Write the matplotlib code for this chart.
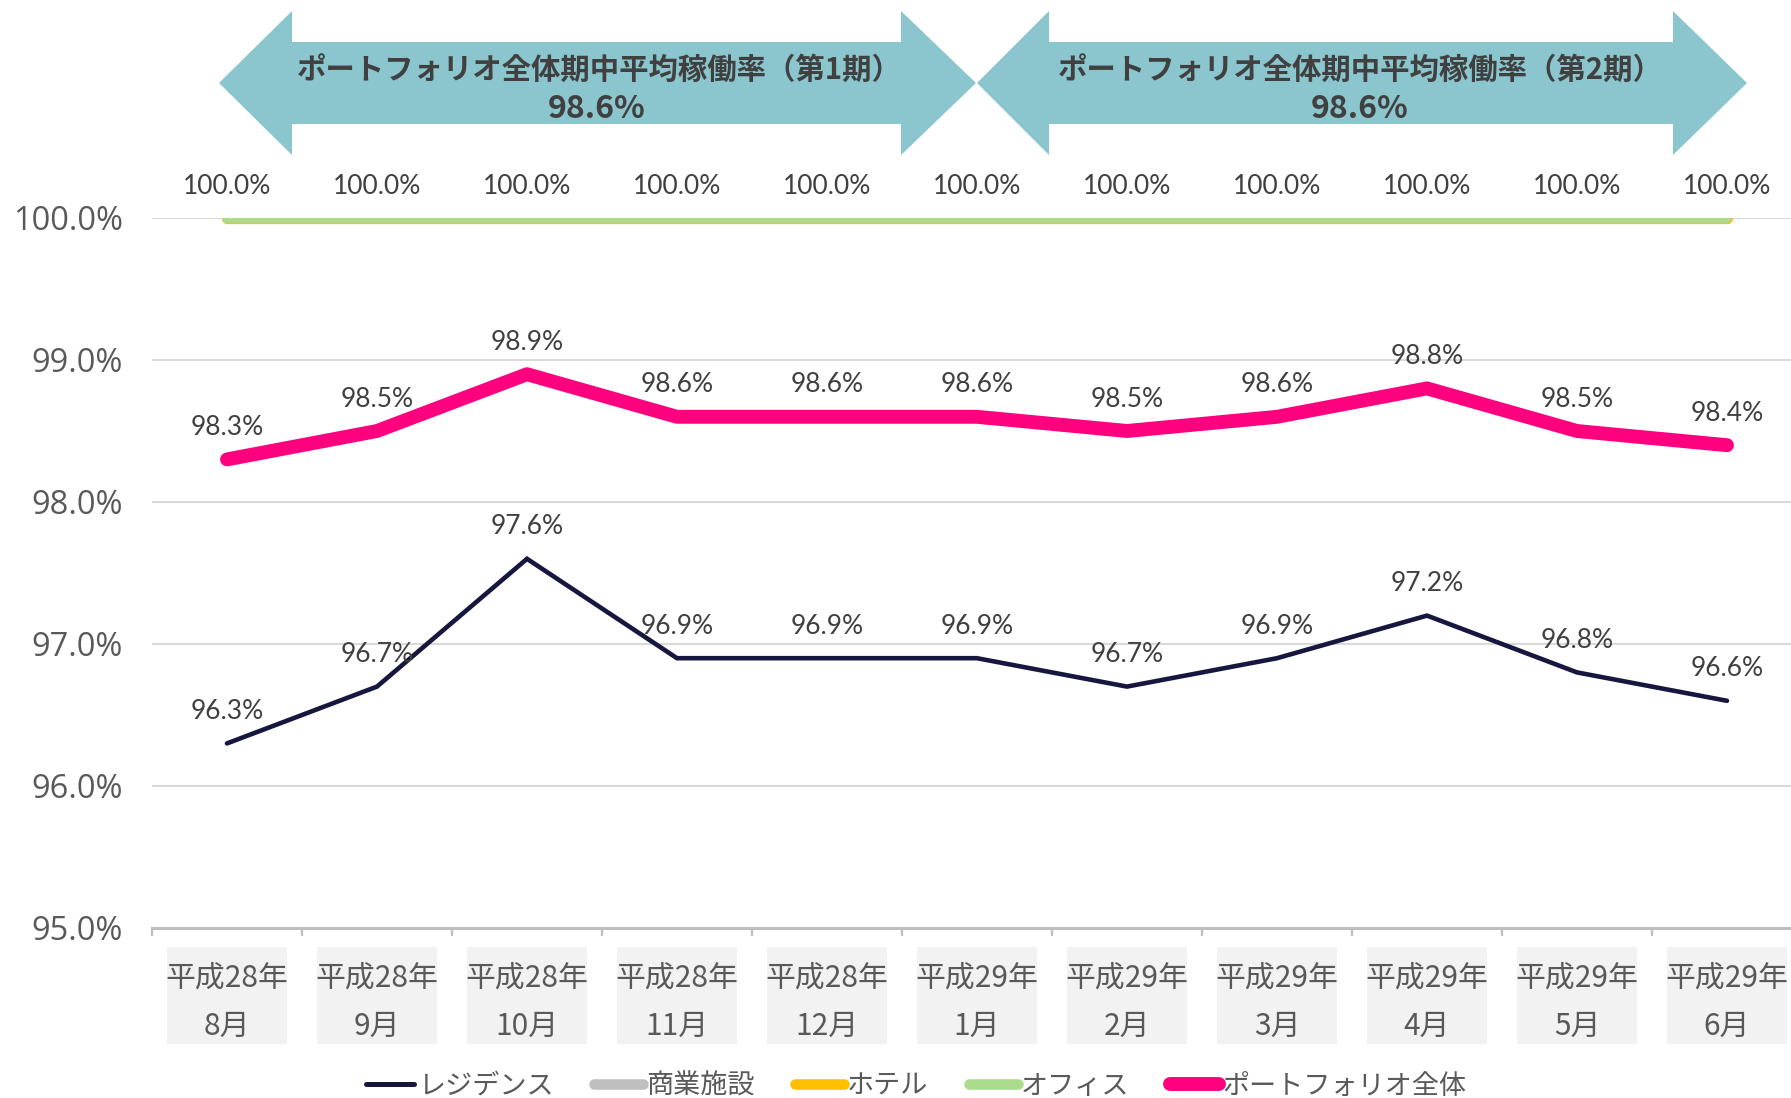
import matplotlib
matplotlib.use("Agg")
import matplotlib.pyplot as plt
from matplotlib.patches import Polygon, Rectangle
from matplotlib.lines import Line2D
import matplotlib.transforms as mtransforms

plt.rcParams['font.family'] = ['Noto Sans CJK JP', 'DejaVu Sans']

# ---------------- data ----------------
years = ["平成28年"] * 5 + ["平成29年"] * 6
months = ["8月", "9月", "10月", "11月", "12月", "1月", "2月", "3月", "4月", "5月", "6月"]
residence = [96.3, 96.7, 97.6, 96.9, 96.9, 96.9, 96.7, 96.9, 97.2, 96.8, 96.6]
commercial = [100.0] * 11
hotel = [100.0] * 11
office = [100.0] * 11
portfolio = [98.3, 98.5, 98.9, 98.6, 98.6, 98.6, 98.5, 98.6, 98.8, 98.5, 98.4]
series_names = ["レジデンス", "商業施設", "ホテル", "オフィス", "ポートフォリオ全体"]
period_titles = ["ポートフォリオ全体期中平均稼働率（第1期）", "ポートフォリオ全体期中平均稼働率（第2期）"]
period_values = ["98.6%", "98.6%"]
yticks = [95.0, 96.0, 97.0, 98.0, 99.0, 100.0]

# ---------------- style ----------------
C_RES = "#16163F"
C_COM = "#BFBFBF"
C_HOT = "#FFC000"
C_OFF = "#ABDC8E"
C_POR = "#FF007F"
C_ARROW = "#8BC5CD"
C_LABEL = "#404040"
C_TICK = "#595959"
NUMFONT = "Lato"

W, H = 1791, 1098
fig = plt.figure(figsize=(W / 100, H / 100), dpi=100)
ax = fig.add_axes([152 / W, 1 - 928 / H, 1650 / W, 710 / H])

x = list(range(len(months)))

ax.plot(x, commercial, color=C_COM, lw=8.0, solid_capstyle='round', zorder=3)
ax.plot(x, hotel, color=C_HOT, lw=8.0, solid_capstyle='round', zorder=4)
ax.plot(x, office, color=C_OFF, lw=7.0, solid_capstyle='round', zorder=5)
ax.plot(x, portfolio, color=C_POR, lw=10, solid_capstyle='round',
        solid_joinstyle='round', zorder=6)
ax.plot(x, residence, color=C_RES, lw=3.3, solid_capstyle='round',
        solid_joinstyle='miter', zorder=6)

def labels(vals):
    for i, v in zip(x, vals):
        ax.annotate(f"{v:.1f}%", (i, v), xytext=(0, 23.0), textcoords='offset points',
                    ha='center', va='center', fontsize=19, family=NUMFONT,
                    color=C_LABEL, annotation_clip=False, zorder=7)

labels(office)
labels(portfolio)
labels(residence)

ax.set_xlim(-0.5, len(months) - 0.5)
ax.set_ylim(95, 100)
ax.set_yticks(yticks)
ax.set_yticklabels([f"{v:.1f}%" for v in yticks], family="Open Sans",
                   fontsize=23.5, color=C_TICK)
ax.tick_params(axis='y', length=0, pad=21)
ax.set_xticks([i - 0.5 for i in range(len(months) + 1)])
ax.set_xticklabels([])
ax.tick_params(axis='x', length=6, width=1.6, color=C_COM, direction='out')
for s in ['left', 'right', 'top']:
    ax.spines[s].set_visible(False)
ax.spines['bottom'].set_color(C_COM)
ax.spines['bottom'].set_linewidth(2.2)
ax.yaxis.grid(True, color='#D9D9D9', lw=1.5)
ax.set_axisbelow(True)

# category label boxes & text
trans = mtransforms.blended_transform_factory(ax.transData, ax.transAxes)
for i, (yy, mm) in enumerate(zip(years, months)):
    ax.add_patch(Rectangle((i - 0.4, -0.1634), 0.8, 0.1634 - 0.0263, transform=trans,
                           facecolor='#F2F2F2', edgecolor='none', clip_on=False))
    ax.text(i, -0.0705, yy, transform=trans, ha='center', va='center',
            fontsize=21.5, color=C_TICK)
    ax.text(i, -0.1380, mm, transform=trans, ha='center', va='center',
            fontsize=21.5, color=C_TICK)

# period arrows
def arrow_poly(x0, x1, yc, hl0, hl1, hh, sh):
    pts = [(x0, yc), (x0 + hl0, yc - hh), (x0 + hl0, yc - sh), (x1 - hl1, yc - sh),
           (x1 - hl1, yc - hh), (x1, yc), (x1 - hl1, yc + hh), (x1 - hl1, yc + sh),
           (x0 + hl0, yc + sh), (x0 + hl0, yc + hh)]
    return [(px / W, 1 - py / H) for px, py in pts]

arrows = [(219, 976, 73, 75), (977, 1747, 72, 74)]
title_cx = [599, 1360]
value_cx = [597, 1360]
for (x0, x1, hl0, hl1), title, val, tcx, vcx in zip(arrows, period_titles, period_values,
                                                     title_cx, value_cx):
    fig.patches.append(Polygon(arrow_poly(x0, x1, 83, hl0, hl1, 72, 41), closed=True,
                               transform=fig.transFigure, facecolor=C_ARROW,
                               edgecolor='none'))
    fig.text(tcx / W, 1 - 70 / H, title, ha='center', va='center', fontsize=21.2,
             fontweight='bold', color=C_LABEL)
    fig.text(vcx / W, 1 - 109 / H, val, ha='center', va='center', fontsize=23,
             fontweight='bold', color=C_LABEL)

# legend
handles = [
    Line2D([], [], color=C_RES, lw=3.6, solid_capstyle='round'),
    Line2D([], [], color=C_COM, lw=7.6, solid_capstyle='round'),
    Line2D([], [], color=C_HOT, lw=7.6, solid_capstyle='round'),
    Line2D([], [], color=C_OFF, lw=7.6, solid_capstyle='round'),
    Line2D([], [], color=C_POR, lw=10, solid_capstyle='round'),
]
fig.legend(handles, series_names, loc='center', bbox_to_anchor=(916 / W, 1 - 1086 / H),
           ncol=5, frameon=False, handlelength=1.8, handletextpad=0.12,
           columnspacing=1.5, fontsize=19.5, labelcolor=C_TICK, borderaxespad=0)

fig.savefig("out.png", dpi=100)
